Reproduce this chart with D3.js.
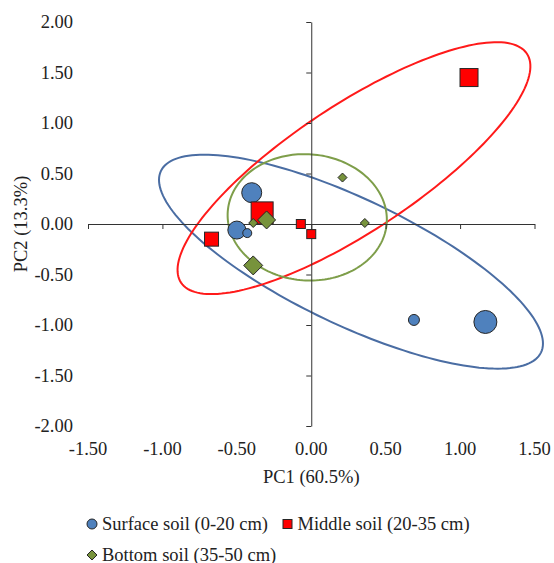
<!DOCTYPE html>
<html>
<head>
<meta charset="utf-8">
<script src="https://cdn.jsdelivr.net/npm/d3@7"></script>
<style>
  html, body { margin: 0; padding: 0; background: #fff; }
  svg text { font-family: "Liberation Serif", "Times New Roman", serif; fill: #222; }
</style>
</head>
<body>
<svg id="chart" width="554" height="563"></svg>
<script>
// PCA scores
const surfacePC1 = [-0.40, -0.50, -0.43, 0.69, 1.17];
const surfacePC2 = [0.31, -0.06, -0.09, -0.95, -0.97];
const surfaceSize = [10, 9, 4.5, 5.5, 11.5];

const middlePC1 = [-0.33, -0.67, -0.07, 0.00, 1.06];
const middlePC2 = [0.11, -0.15, 0.00, -0.10, 1.45];
const middleSize = [11, 7, 4.5, 4.5, 9];

const bottomPC1 = [-0.30, -0.39, -0.39, 0.21, 0.36];
const bottomPC2 = [0.04, 0.01, -0.41, 0.46, 0.01];
const bottomSize = [9, 4.5, 9.5, 4.5, 4.5];

// group ellipses: centre and two conjugate semi-axes, in PC units
const ellipseCentre = [[0.267, -0.373], [0.287, 0.553], [-0.027, 0.066]];
const ellipseAxisA = [[-1.277, 0.898], [1.162, 1.133], [-0.534, 0.058]];
const ellipseAxisB = [[0.182, 0.562], [0.234, -0.521], [0.031, 0.623]];

const seriesNames = ["Surface soil (0-20 cm)", "Middle soil (20-35 cm)", "Bottom soil (35-50 cm)"];
const xTicks = [-1.5, -1, -0.5, 0, 0.5, 1, 1.5];
const yTicks = [-2, -1.5, -1, -0.5, 0, 0.5, 1, 1.5, 2];

const colors = ["#4F81BD", "#FF0000", "#77933C"];
const lineColors = ["#4A6DA3", "#FF1A1A", "#7E9E4A"];

const svg = d3.select("#chart");
const x = d3.scaleLinear().domain([-1.5, 1.5]).range([88, 534.5]);
const y = d3.scaleLinear().domain([-2, 2]).range([426, 22]);
const size = d3.scaleLinear().domain([0, 10]).range([0, 20]);

// ellipses
const ellipseLine = d3.line().x(d => x(d[0])).y(d => y(d[1])).curve(d3.curveLinearClosed);
ellipseCentre.forEach((c, i) => {
    const a = ellipseAxisA[i], b = ellipseAxisB[i];
    const pts = d3.range(0, 360, 2).map(deg => {
        const t = deg * Math.PI / 180;
        return [c[0] + a[0] * Math.cos(t) + b[0] * Math.sin(t),
                c[1] + a[1] * Math.cos(t) + b[1] * Math.sin(t)];
    });
    svg.append("path").attr("d", ellipseLine(pts))
        .attr("fill", "none").attr("stroke", lineColors[i]).attr("stroke-width", 2);
});

// axes crossing at zero, labels kept at the low edge
const xAxis = svg.append("g").attr("transform", `translate(0,${y(0)})`)
    .call(d3.axisBottom(x).tickValues(xTicks).tickSize(5).tickSizeOuter(0).tickFormat(""));
const yAxis = svg.append("g").attr("transform", `translate(${x(0)},0)`)
    .call(d3.axisLeft(y).tickValues(yTicks).tickSize(5).tickSizeOuter(0).tickFormat(""));
[xAxis, yAxis].forEach(g => {
    g.selectAll("path, line").attr("stroke", "#333").attr("stroke-width", 1);
});

svg.append("g").selectAll("text").data(xTicks).join("text")
    .attr("x", d => x(d)).attr("y", 455)
    .attr("text-anchor", "middle").attr("font-size", 18.5)
    .text(d => d3.format(".2f")(d).replace("−", "-"));
svg.append("g").selectAll("text").data(yTicks).join("text")
    .attr("x", 73).attr("y", d => y(d)).attr("dy", "0.35em")
    .attr("text-anchor", "end").attr("font-size", 18.5)
    .text(d => d3.format(".2f")(d).replace("−", "-"));

svg.append("text").attr("x", x(0)).attr("y", 483)
    .attr("text-anchor", "middle").attr("font-size", 18.5).text("PC1 (60.5%)");
svg.append("text").attr("transform", `translate(27,${y(0)}) rotate(-90)`)
    .attr("text-anchor", "middle").attr("font-size", 18.5).text("PC2 (13.3%)");

// markers
const markerStroke = "#262626";
const pts = g => g.attr("stroke", markerStroke).attr("stroke-width", 1);

svg.append("g").selectAll("circle").data(d3.range(surfacePC1.length)).join("circle")
    .attr("cx", i => x(surfacePC1[i])).attr("cy", i => y(surfacePC2[i]))
    .attr("r", i => size(surfaceSize[i]) / 2)
    .attr("fill", colors[0]).call(pts);

svg.append("g").selectAll("rect").data(d3.range(middlePC1.length)).join("rect")
    .attr("x", i => x(middlePC1[i]) - size(middleSize[i]) / 2)
    .attr("y", i => y(middlePC2[i]) - size(middleSize[i]) / 2)
    .attr("width", i => size(middleSize[i])).attr("height", i => size(middleSize[i]))
    .attr("fill", colors[1]).call(pts);

const diamond = s => `M0,${-s / 2}L${s / 2},0L0,${s / 2}L${-s / 2},0Z`;
svg.append("g").selectAll("path").data(d3.range(bottomPC1.length)).join("path")
    .attr("transform", i => `translate(${x(bottomPC1[i])},${y(bottomPC2[i])})`)
    .attr("d", i => diamond(size(bottomSize[i])))
    .attr("fill", colors[2]).call(pts);

// legend
const legend = svg.append("g");
const legendPos = [[92, 524], [287.5, 524], [92, 555]];
legendPos.forEach((p, i) => {
    const g = legend.append("g").attr("transform", `translate(${p[0]},${p[1]})`);
    if (i === 0) g.append("circle").attr("r", 5).attr("fill", colors[0]).call(pts);
    if (i === 1) g.append("rect").attr("x", -4.5).attr("y", -4.5).attr("width", 9).attr("height", 9).attr("fill", colors[1]).call(pts);
    if (i === 2) g.append("path").attr("d", diamond(10)).attr("fill", colors[2]).call(pts);
    g.append("text").attr("x", 10).attr("y", 5.5).attr("font-size", 18.5).text(seriesNames[i]);
});
</script>
</body>
</html>
